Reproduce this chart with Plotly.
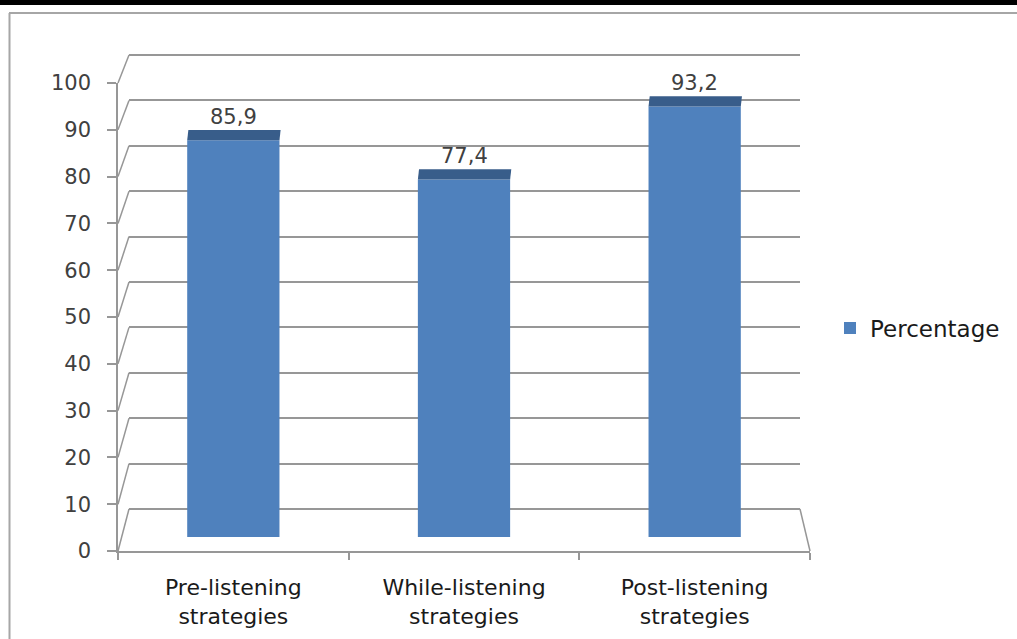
import plotly.graph_objects as go

# ---- data ----
categories = ["Pre-listening<br>strategies", "While-listening<br>strategies", "Post-listening<br>strategies"]
values = [85.9, 77.4, 93.2]
series_name = "Percentage"
y_ticks = [0, 10, 20, 30, 40, 50, 60, 70, 80, 90, 100]

# ---- geometry helpers (pixel -> paper) ----
W, H = 1017, 639
def px(x):
    return x / W
def py(y):
    return 1 - y / H

FRONT = "#4F81BD"
TOP = "#385D8A"
GRID = "#979797"
FONT = "DejaVu Sans"
TOP_DEPTH = 2.2   # depth of the bar's top face, in value units
EPS = 0.3         # tiny range padding so the 0 and 100 wall gridlines are kept

back_dom_x = [px(129), px(800)]
back_dom_y = [py(509), py(55)]
front_dom_x = [px(118), px(810)]
front_dom_y = [py(551), py(83)]
bar_dom_x = [px(118), px(810)]
bar_dom_y = [py(537), py(75)]

# back wall domain padded by EPS so that values 0..100 map to pixels 509..55
bw_span = back_dom_y[1] - back_dom_y[0]
bw_pad = bw_span * EPS / 100
back_dom_y_padded = [back_dom_y[0] - bw_pad, back_dom_y[1] + bw_pad]

fig = go.Figure()

# back wall (subplot x/y) - only gridlines
fig.add_trace(go.Scatter(x=[0], y=[0], mode="markers", marker=dict(opacity=0),
                         hoverinfo="skip", showlegend=False, xaxis="x", yaxis="y"))
# front axes (subplot x2/y2)
fig.add_trace(go.Scatter(x=[categories[0]], y=[0], mode="markers", marker=dict(opacity=0),
                         hoverinfo="skip", showlegend=False, xaxis="x2", yaxis="y2"))
# bars (subplot x3/y3) drawn last, so above the wall gridlines
fig.add_trace(go.Bar(x=categories, y=values, name=series_name,
                     marker=dict(color=FRONT, line=dict(width=0)),
                     xaxis="x3", yaxis="y3", width=0.4))

shapes = []
annotations = []

# top faces of the columns and value labels
for i, v in enumerate(values):
    shapes.append(dict(type="path", xref="x3", yref="y3",
                       path=f"M {i-0.2},{v} L {i+0.2},{v} L {i+0.205},{v+TOP_DEPTH} L {i-0.195},{v+TOP_DEPTH} Z",
                       fillcolor=TOP, line=dict(width=0), layer="above"))
    annotations.append(dict(x=i, y=v + TOP_DEPTH, xref="x3", yref="y3",
                            text=f"{v:.1f}".replace(".", ","), showarrow=False,
                            yanchor="bottom", yshift=-1,
                            font=dict(family=FONT, size=21, color="#404040")))

# side wall slants connecting front ticks to back wall gridlines
for k in y_ticks:
    yf = front_dom_y[0] + (front_dom_y[1] - front_dom_y[0]) * k / 100
    yb = back_dom_y[0] + (back_dom_y[1] - back_dom_y[0]) * k / 100
    shapes.append(dict(type="line", xref="paper", yref="paper",
                       x0=front_dom_x[0], y0=yf, x1=back_dom_x[0], y1=yb,
                       line=dict(color=GRID, width=1.5)))
# right edge of the floor
shapes.append(dict(type="line", xref="paper", yref="paper",
                   x0=back_dom_x[1], y0=back_dom_y[0], x1=front_dom_x[1], y1=front_dom_y[0],
                   line=dict(color=GRID, width=1.5)))

# page decoration: black rule at top and chart frame
shapes.append(dict(type="rect", xref="paper", yref="paper", x0=0, x1=1, y0=py(5), y1=1,
                   fillcolor="black", line=dict(width=0)))
shapes.append(dict(type="line", xref="paper", yref="paper", x0=px(9), x1=1, y0=py(13), y1=py(13),
                   line=dict(color="#a6a6a6", width=2)))
shapes.append(dict(type="line", xref="paper", yref="paper", x0=px(9.5), x1=px(9.5), y0=py(13), y1=0,
                   line=dict(color="#a6a6a6", width=2)))

fig.update_layout(
    width=W, height=H,
    margin=dict(l=0, r=0, t=0, b=0, pad=0, autoexpand=False),
    paper_bgcolor="white", plot_bgcolor="rgba(0,0,0,0)",
    showlegend=True,
    legend=dict(x=px(830), y=py(328), yanchor="middle", xanchor="left",
                font=dict(family=FONT, size=23, color="#1a1a1a"),
                bgcolor="rgba(0,0,0,0)", itemwidth=30),
    xaxis=dict(domain=back_dom_x, range=[0, 1], visible=False, fixedrange=True, automargin=False),
    yaxis=dict(domain=back_dom_y_padded, range=[-EPS, 100 + EPS], tickvals=y_ticks, showgrid=True,
               gridcolor=GRID, gridwidth=1.5, zeroline=False, showticklabels=False,
               showline=False, anchor="x", automargin=False),
    xaxis2=dict(domain=front_dom_x, type="category", categoryarray=categories,
                categoryorder="array", range=[-0.5, 2.5], anchor="y2",
                showline=True, linecolor=GRID, linewidth=1.5,
                ticks="outside", tickson="boundaries", ticklen=7, tickcolor=GRID, tickwidth=1.5,
                showgrid=False, zeroline=False, ticklabelstandoff=16, automargin=False,
                tickfont=dict(family=FONT, size=22, color="#1a1a1a")),
    yaxis2=dict(domain=front_dom_y, range=[0, 100], tickvals=y_ticks, anchor="x2",
                showline=True, linecolor=GRID, linewidth=1.5,
                ticks="outside", ticklen=9, tickcolor=GRID, tickwidth=1.5,
                showgrid=False, zeroline=False, ticklabelstandoff=12, automargin=False,
                tickfont=dict(family=FONT, size=21, color="#404040")),
    xaxis3=dict(domain=bar_dom_x, type="category", categoryarray=categories,
                categoryorder="array", range=[-0.5, 2.5], anchor="y3", visible=False,
                automargin=False),
    yaxis3=dict(domain=bar_dom_y, range=[0, 100], anchor="x3", visible=False, automargin=False),
    shapes=shapes,
    annotations=annotations,
)

fig.write_html("out.html")
